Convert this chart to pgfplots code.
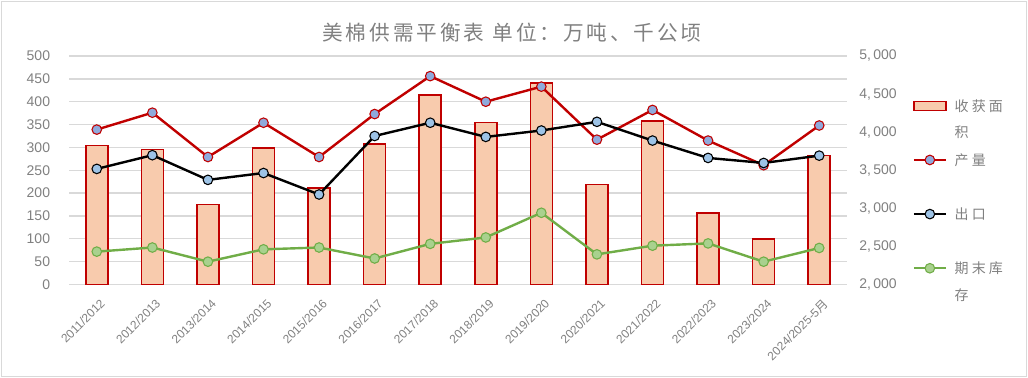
\documentclass[border=0pt]{standalone}
\usepackage{fontspec}
\setmainfont{Liberation Sans}
\newfontfamily\cjk{Noto Sans CJK SC}
\newfontfamily\cjktitle[LetterSpace=14]{Noto Sans CJK SC}
\newfontfamily\cjkleg[LetterSpace=22]{Noto Sans CJK SC}
\usepackage{pgfplots}
\pgfplotsset{compat=1.18}
\definecolor{barfill}{HTML}{F8CBAD}
\definecolor{darkred}{HTML}{C00000}
\definecolor{mkred}{HTML}{8FAADC}
\definecolor{mkblue}{HTML}{9DC3E6}
\definecolor{grn}{HTML}{70AD47}
\definecolor{mkgrn}{HTML}{A9D18E}
\definecolor{gridc}{HTML}{D9D9D9}
\definecolor{txt}{HTML}{808080}
\definecolor{framec}{HTML}{D9D9D9}
\newcommand{\legtxt}[1]{\parbox[t]{50pt}{#1}}
\pgfplotsset{
  common/.style={scale only axis, width=583.5pt, height=171.4pt,
    at={(51.75pt,70.1pt)}, anchor=south west, xmin=-0.5, xmax=13.5,
    /pgf/number format/assume math mode=true},
  barleg/.style={legend image code/.code={\draw[##1,yshift=4pt] (0pt,-3.4pt) rectangle (24pt,3.4pt);}},
  lineleg/.style={legend image code/.code={\draw[mark repeat=2,mark phase=2,##1,yshift=4pt] plot coordinates {(0pt,0pt) (12pt,0pt) (24pt,0pt)};}},
}
\begin{document}
\begin{tikzpicture}
\useasboundingbox (0,0) rectangle (771pt,283.5pt);
\draw[framec, line width=1.2pt] (1pt,1pt) rectangle (770pt,282.5pt);
% axis 1: left ticks, grid, x labels, title
\begin{axis}[common, ymin=0, ymax=500, ytick={0,50,...,500},
  xtick={0,...,13},
  xticklabels={2011/2012,2012/2013,2013/2014,2014/2015,2015/2016,2016/2017,2017/2018,2018/2019,2019/2020,2020/2021,2021/2022,2022/2023,2023/2024,2024/2025-5{\cjk 月}},
  ymajorgrids, grid style={gridc, line width=1pt},
  axis x line*=bottom, axis y line*=left,
  y axis line style={draw=none}, x axis line style={gridc, line width=1.2pt},
  major tick length=0pt, tick style={draw=none},
  yticklabel style={font=\fontsize{10.5}{12}\selectfont, text=txt, inner sep=0pt, xshift=-14pt},
  xticklabel style={font=\fontsize{9}{11}\selectfont, text=txt, inner sep=0pt, xshift=2pt, yshift=-10pt, rotate=45, anchor=north east},
  title={美棉供需平衡表\hspace{6pt}单位：万吨、千公顷},
  title style={font=\cjktitle\fontsize{15.5}{17}\selectfont, text=txt, anchor=base, yshift=6pt, xshift=40.5pt},
]
\end{axis}
% axis 2: bars on right axis
\begin{axis}[common, ymin=2000, ymax=5000, ytick={2000,2500,...,5000},
  axis y line*=right, axis x line=none, scaled y ticks=false,
  y axis line style={draw=none}, major tick length=0pt, tick style={draw=none},
  yticklabel style={font=\fontsize{10.5}{12}\selectfont, text=txt, inner sep=0pt, xshift=9pt,
    /pgf/number format/1000 sep={,\,}},
]
\addplot[ybar, bar width=16.5pt, fill=barfill, draw=darkred, line width=1.1pt] coordinates {
(0,3822) (1,3774) (2,3048) (3,3791) (4,3268) (5,3844) (6,4490) (7,4130) (8,4648) (9,3312) (10,4147) (11,2939) (12,2596) (13,3691)};
\end{axis}
% axis 3: lines and legend
\begin{axis}[common, ymin=0, ymax=500, hide axis, clip=false,
  legend style={at={(1.0844,0.822)}, anchor=north west, draw=none, fill=none,
    inner sep=0pt, outer sep=0pt, row sep=26.3pt, column sep=3.75pt,
    font=\cjkleg\fontsize{10.5}{20}\selectfont, text=txt,
    cells={anchor=base west, inner sep=0pt}},
]
\addlegendimage{barleg, fill=barfill, draw=darkred, line width=1.1pt}
\addlegendentry{\legtxt{收获面\\积}}
\addplot[lineleg, darkred, line width=1.8pt, mark=*, mark size=3.6pt, mark options={fill=mkred, draw=darkred, line width=0.8pt}] coordinates {
(0,339) (1,376) (2,279) (3,354) (4,279) (5,373) (6,456) (7,400) (8,433) (9,317) (10,382) (11,315) (12,261) (13,348)};
\addlegendentry{\legtxt{产量}}
\addplot[lineleg, black, line width=1.8pt, mark=*, mark size=3.6pt, mark options={fill=mkblue, draw=black, line width=0.8pt}] coordinates {
(0,253) (1,283) (2,229) (3,244) (4,197) (5,325) (6,354) (7,323) (8,337) (9,356) (10,315) (11,277) (12,266) (13,282)};
\addlegendentry{\legtxt{出口}}
\addplot[lineleg, grn, line width=1.8pt, mark=*, mark size=3.6pt, mark options={fill=mkgrn, draw=grn, line width=0.8pt}] coordinates {
(0,72) (1,81) (2,50) (3,77) (4,81) (5,57) (6,89) (7,103) (8,157) (9,66) (10,85) (11,90) (12,50) (13,80)};
\addlegendentry{\legtxt{期末库\\存}}
\end{axis}
\end{tikzpicture}
\end{document}
